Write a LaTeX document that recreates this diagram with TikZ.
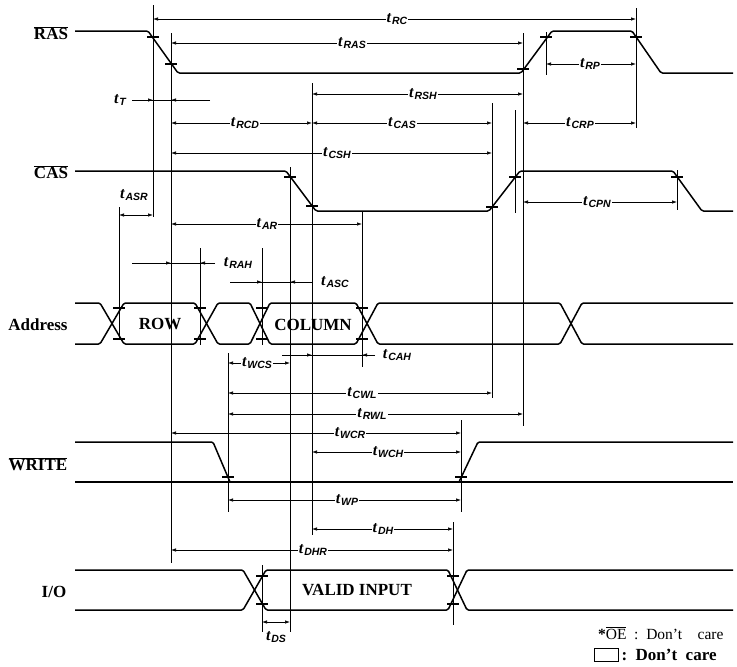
\documentclass[tikz,border=0pt]{standalone}
\usepackage{fontspec}
\setmainfont{Liberation Serif}
\setsansfont{Liberation Sans}
\usetikzlibrary{arrows.meta}

% timing symbol: t with a sans subscript
\newcommand{\tsym}[1]{\textit{t}\kern0.5pt\raisebox{-2.2pt}{\fontsize{10.5}{10.5}\selectfont\sffamily\bfseries\itshape #1}}

\begin{document}
\begin{tikzpicture}[x=1pt,y=-1pt,
  sig/.style={line width=1.5pt, line join=round, rounded corners=1.5pt},
  vref/.style={line width=0.9pt},
  dim/.style={line width=0.7pt, {Latex[length=5pt,width=3.5pt]}-{Latex[length=5pt,width=3.5pt]}},
  dimin/.style={line width=0.7pt, -{Latex[length=5pt,width=3.5pt]}},
  tick/.style={line width=1.2pt},
  lab/.style={fill=white, inner sep=1.2pt, font=\fontsize{16}{16}\selectfont\bfseries},
  signame/.style={font=\fontsize{17}{17}\selectfont\bfseries},
]
\useasboundingbox (0,0) rectangle (737,667);

%--- vertical reference lines -------------------------------------------
\foreach \x/\ya/\yb in {153/5/217, 171/33/563, 119/207/340, 200/248/345,
    262/248/345, 228/353/512, 290/167/632, 312/83/535, 362/212/367,
    492/103/398, 515/110/213, 523/33/426, 546/32/75, 636/8/128,
    677/170/210, 461/420/512, 453/522/625, 262/565/632}{
  \draw[vref] (\x,\ya) -- (\x,\yb);
}

%--- dimension lines, label on the line ---------------------------------
\foreach \xa/\xb/\y/\xl/\s in {153/636/19/397/RC, 171/523/43/352/RAS,
    546/636/64/590/RP, 312/523/94/423/RSH, 171/312/123/245/RCD,
    312/492/123/402/CAS, 523/636/123/580/CRP, 171/492/153/337/CSH,
    523/677/202/597/CPN, 171/362/224/267/AR, 228/290/363/257/WCS,
    228/492/393/362/CWL, 228/523/414/372/RWL, 171/461/433/350/WCR,
    312/461/452/388/WCH, 228/461/500/347/WP, 312/453/529/383/DH,
    171/453/550/313/DHR}{
  \draw[dim] (\xa,\y) -- (\xb,\y);
  \node[lab] (t\s) at (\xl,\y) {\tsym{\s}};
}

% arrows from outside
\foreach \xa/\xb/\xc/\xd/\y/\xl/\s in {132/153/171/210/100/120/T,
    132/171/200/215/263/238/RAH, 230/262/290/312/282/335/ASC,
    282/312/362/375/355/397/CAH}{
  \draw[line width=0.7pt] (\xa,\y) -- (\xd,\y);
  \draw[dimin] (\xa,\y) -- (\xb,\y);
  \draw[dimin] (\xd,\y) -- (\xc,\y);
  \node[lab] (t\s) at (\xl,\y) {\tsym{\s}};
}

% short ones, label off the line
\draw[dim] (119,215) -- (153,215);
\node[lab] (tASR) at (134,195) {\tsym{ASR}};
\draw[dim] (262,622) -- (290,622);
\node[lab] (tDS) at (276,637) {\tsym{DS}};

%--- signals ------------------------------------------------------------
% RAS
\draw[sig] (75,31) -- (148,31) -- (178,73) -- (521,73) -- (552,31)
  -- (632,31) -- (661,73) -- (733,73);
% CAS
\draw[sig] (75,171) -- (286,171) -- (316,211) -- (489,211) -- (520,171)
  -- (673,171) -- (702,211) -- (733,211);
% Address
\draw[sig] (75,303) -- (100,303) -- (124,344) -- (195,344) -- (218,303)
  -- (250,303) -- (270,344) -- (356,344) -- (378,303) -- (560,303)
  -- (582,344) -- (733,344);
\draw[sig] (75,344) -- (100,344) -- (124,303) -- (195,303) -- (218,344)
  -- (250,344) -- (270,303) -- (356,303) -- (378,344) -- (560,344)
  -- (582,303) -- (733,303);
% WRITE
\draw[sig] (75,442) -- (213,442) -- (230,482);
\draw[sig] (75,482) -- (733,482);
\draw[sig] (459,482) -- (478,442) -- (733,442);
% I/O
\draw[sig] (75,570) -- (243,570) -- (266,610) -- (448,610) -- (467,570) -- (733,570);
\draw[sig] (75,610) -- (243,610) -- (266,570) -- (448,570) -- (467,610) -- (733,610);

%--- crossing marks -----------------------------------------------------
\foreach \x/\y in {153/37, 171/64, 523/69, 546/37, 636/37,
    290/177, 312/206, 492/207, 515/177, 677/177,
    119/308, 119/339, 200/308, 200/339, 262/308, 262/339, 362/308, 362/339,
    228/477, 461/477, 262/576, 262/604, 453/576, 453/604}{
  \draw[tick] (\x-6,\y) -- (\x+6,\y);
}

%--- names --------------------------------------------------------------
\node[signame] (ras) at (51,33) {$\overline{\mbox{RAS}}$};
\node[signame] (cas) at (51,172) {$\overline{\mbox{CAS}}$};
\node[signame] (addr) at (38,325) {Address};
\node[signame] (wr) at (38,464) {$\overline{\mbox{WRITE}}$};
\node[signame] (io) at (54,592) {I/O};
\node[signame] (row) at (160,324) {ROW};
\node[signame] (col) at (313,325) {COLUMN};
\node[signame] (valid) at (357,590) {VALID INPUT};

%--- legend -------------------------------------------------------------
\node[font=\fontsize{15.5}{15.5}\selectfont, anchor=east] (oe) at (727,633)
  {{\bfseries *}$\overline{\mbox{OE}}$\enspace:\enspace Don't\quad care};
\draw[line width=1pt] (594,648) rectangle (618,661);
\node[font=\fontsize{17}{17}\selectfont\bfseries, anchor=west] (dc) at (618,655)
  {:\enspace Don't\enspace care};

\end{tikzpicture}
\end{document}
